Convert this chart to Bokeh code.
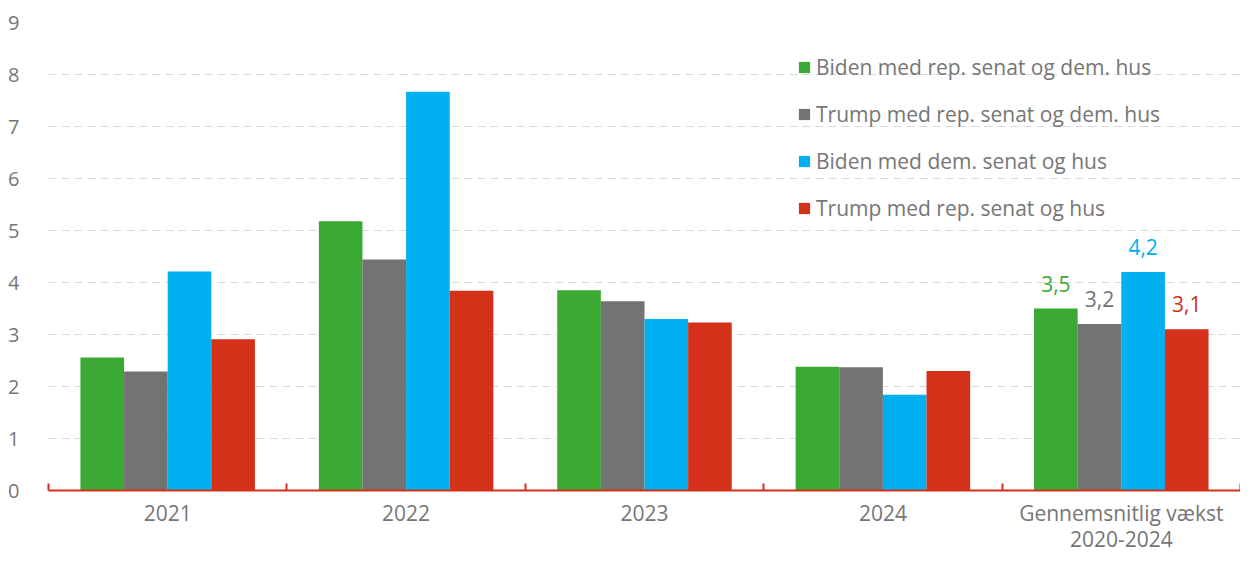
from bokeh.plotting import figure
from bokeh.models import ColumnDataSource, Range1d, FixedTicker, Legend, LegendItem, Label
from bokeh.embed import file_html
from bokeh.resources import INLINE

categories = ["2021", "2022", "2023", "2024", "Gennemsnitlig vækst\n2020-2024"]
series_names = ["Biden med rep. senat og dem. hus", "Trump med rep. senat og dem. hus",
                "Biden med dem. senat og hus", "Trump med rep. senat og hus"]
biden_rep_senat_dem_hus = [2.56, 5.18, 3.85, 2.38, 3.5]
trump_rep_senat_dem_hus = [2.29, 4.44, 3.64, 2.37, 3.2]
biden_dem_senat_hus = [4.21, 7.67, 3.30, 1.84, 4.2]
trump_rep_senat_hus = [2.91, 3.84, 3.23, 2.30, 3.1]
avg_labels = ["3,5", "3,2", "4,2", "3,1"]
y_ticks = list(range(0, 10))

colors = ["#3AAA35", "#737373", "#00B0F0", "#D3311A"]
series = [biden_rep_senat_dem_hus, trump_rep_senat_dem_hus, biden_dem_senat_hus, trump_rep_senat_hus]

FONT = "Open Sans"
TXT = "#767676"

p = figure(width=1240, height=556, output_backend="svg", toolbar_location=None,
           x_range=Range1d(0, len(categories)), y_range=Range1d(0, 9),
           min_border_left=48, min_border_right=0, min_border_top=22, min_border_bottom=0)
p.outline_line_color = None
p.xgrid.grid_line_color = None
p.ygrid.grid_line_color = "#D9D9D9"
p.ygrid.grid_line_dash = "8 5"
p.ygrid.grid_line_width = 1.2
p.ygrid.ticker = FixedTicker(ticks=y_ticks)

p.yaxis.ticker = FixedTicker(ticks=y_ticks)
p.yaxis.axis_line_color = None
p.yaxis.major_tick_line_color = None
p.yaxis.minor_tick_line_color = None
p.yaxis.major_label_text_font = FONT
p.yaxis.major_label_text_font_size = "20px"
p.yaxis.major_label_text_color = TXT
p.yaxis.major_label_standoff = 23

centers = [i + 0.5 for i in range(len(categories))]
bounds = list(range(len(categories) + 1))
p.xaxis.ticker = FixedTicker(ticks=centers, minor_ticks=bounds)
p.xaxis.major_label_overrides = {c: lab for c, lab in zip(centers, categories)}
p.xaxis.axis_line_color = "#D3311A"
p.xaxis.axis_line_width = 2
p.xaxis.major_tick_line_color = None
p.xaxis.major_tick_in = 0
p.xaxis.major_tick_out = 0
p.xaxis.minor_tick_line_color = "#D3311A"
p.xaxis.minor_tick_line_width = 2
p.xaxis.minor_tick_in = 7
p.xaxis.minor_tick_out = 0
p.xaxis.major_label_text_font = FONT
p.xaxis.major_label_text_font_size = "21px"
p.xaxis.major_label_text_line_height = 0.95
p.xaxis.major_label_text_color = TXT
p.xaxis.major_label_standoff = 8

w = 0.183
items = []
for k, (vals, col, name) in enumerate(zip(series, colors, series_names)):
    xs = [c + (k - 1.5) * w for c in centers]
    src = ColumnDataSource(dict(x=xs, top=vals))
    r = p.vbar(x="x", top="top", width=w, source=src, fill_color=col, line_color=None)
    items.append(LegendItem(label=name, renderers=[r]))
    lab = Label(x=xs[-1], y=vals[-1], text=avg_labels[k], text_color=col,
                text_font=FONT, text_font_size="21px", text_align="center",
                text_baseline="bottom", y_offset=17)
    p.add_layout(lab)

legend = Legend(items=items, location=(749, 268), background_fill_alpha=0,
                border_line_color=None, label_text_font=FONT, label_text_font_size="21px",
                label_text_color=TXT, glyph_width=14, glyph_height=14, label_height=26,
                spacing=19, padding=0, margin=0, label_standoff=5)
p.add_layout(legend, "center")

open("out.html", "w").write(file_html(p, INLINE))
